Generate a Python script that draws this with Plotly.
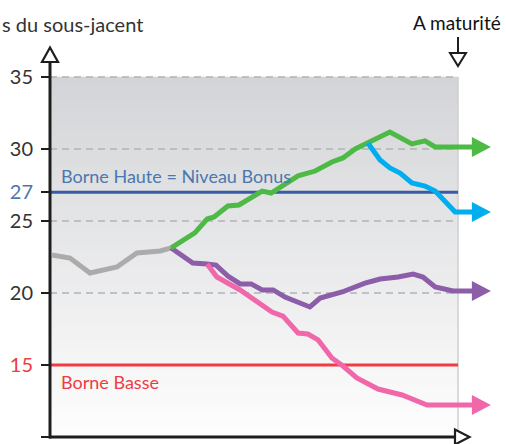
import plotly.graph_objects as go

# ---------------- data ----------------
gray_t = [0.5, 4.9, 9.8, 16.4, 21.3, 27.0, 29.7]
gray_v = [22.64, 22.43, 21.39, 21.81, 22.78, 22.92, 23.13]

green_t = [29.7, 35.5, 38.5, 40.2, 43.6, 46.3, 52.0, 54.2, 60.8, 65.0, 69.1, 71.8, 74.8, 77.9, 83.3, 88.7, 91.9, 94.4, 103.7]
green_v = [23.13, 24.17, 25.14, 25.28, 26.04, 26.11, 27.08, 26.94, 28.13, 28.47, 29.10, 29.38, 30.0, 30.42, 31.18, 30.35, 30.56, 30.14, 30.14]

cyan_t = [77.9, 80.9, 83.3, 85.8, 88.7, 91.9, 94.4, 99.3, 103.7]
cyan_v = [30.42, 29.24, 28.68, 28.33, 27.64, 27.43, 27.08, 25.63, 25.63]

purple_t = [29.7, 35.0, 38.5, 40.7, 43.6, 46.6, 49.3, 52.0, 54.7, 57.6, 63.7, 66.2, 71.6, 77.2, 80.9, 85.3, 89.0, 91.4, 94.4, 98.8, 103.7]
purple_v = [23.13, 22.08, 22.01, 21.94, 21.18, 20.63, 20.63, 20.21, 20.21, 19.72, 19.03, 19.65, 20.07, 20.69, 20.97, 21.11, 21.32, 21.11, 20.42, 20.14, 20.14]

pink_t = [38.5, 40.9, 46.6, 54.4, 57.1, 60.8, 63.2, 65.7, 69.1, 71.8, 75.2, 80.4, 86.3, 92.4, 103.7]
pink_v = [22.01, 21.11, 20.21, 18.68, 18.40, 17.22, 17.15, 16.74, 15.49, 14.93, 14.10, 13.33, 12.92, 12.22, 12.22]

borne_haute = 27
borne_basse = 15
grid_vals = [20, 25, 30, 35]
tick_vals = [10, 15, 20, 25, 27, 30, 35]
tick_labels = ["10", "15", "20", "25", "27", "30", "35"]
maturity_t = 100
y_min, y_max = 10, 35

# ---------------- style ----------------
W, H = 506, 444
ML, MR, MT, MB = 50, 6, 47, 7
X_RANGE = [0, 110.29]
Y_RANGE = [10, 37.083]
FONT = "Lato, Open Sans, sans-serif"
C_GRAY = "#ababab"
C_GREEN = "#4dba45"
C_CYAN = "#00aeef"
C_PURPLE = "#8c5da8"
C_PINK = "#f068aa"
C_BLUE = "#3a5aa8"
C_BLUE_TXT = "#4a78ae"
C_RED = "#ef3b43"
C_AX = "#1e1e1e"

pw = W - ML - MR
ph = H - MT - MB


def px_x(px):
    return (px - ML) / pw


def px_y(py):
    return (H - MB - py) / ph


fig = go.Figure()

# gradient background (bands)
n = 60
top = (0xd3, 0xd4, 0xd7)
bot = (0xfe, 0xfe, 0xfe)
shapes = []
for i in range(n):
    f0 = i / n
    f1 = (i + 1) / n
    fm = (f0 + f1) / 2
    c = tuple(round(bot[k] + (top[k] - bot[k]) * fm) for k in range(3))
    shapes.append(dict(type="rect", xref="x", yref="y", x0=0, x1=maturity_t,
                       y0=y_min + (y_max - y_min) * f0, y1=y_min + (y_max - y_min) * f1 + 0.02,
                       fillcolor="rgb(%d,%d,%d)" % c, line=dict(width=0), layer="below"))
# right edge line of area
shapes.append(dict(type="line", xref="x", yref="y", x0=maturity_t, x1=maturity_t, y0=y_min, y1=y_max,
                   line=dict(color="#cfcfcf", width=1.5), layer="below"))
# dashed grid
for g in grid_vals:
    shapes.append(dict(type="line", xref="x", yref="y", x0=0, x1=maturity_t, y0=g, y1=g,
                       line=dict(color="#b3b3b3", width=1.3, dash="7px,5px"), layer="below"))
# borne lines
shapes.append(dict(type="line", xref="x", yref="y", x0=0, x1=maturity_t, y0=borne_haute, y1=borne_haute,
                   line=dict(color=C_BLUE, width=3), layer="below"))
shapes.append(dict(type="line", xref="x", yref="y", x0=0, x1=maturity_t, y0=borne_basse, y1=borne_basse,
                   line=dict(color=C_RED, width=3), layer="below"))

fig.update_layout(shapes=shapes)

for t, v, col in [(gray_t, gray_v, C_GRAY), (purple_t, purple_v, C_PURPLE), (pink_t, pink_v, C_PINK),
                  (green_t, green_v, C_GREEN), (cyan_t, cyan_v, C_CYAN)]:
    fig.add_trace(go.Scatter(x=t, y=v, mode="lines", line=dict(color=col, width=5),
                             hoverinfo="skip", showlegend=False))

# arrow heads at series ends
ppu_x = pw / (X_RANGE[1] - X_RANGE[0])
ppu_y = ph / (Y_RANGE[1] - Y_RANGE[0])
head_len = 19 / ppu_x
head_half = 10 / ppu_y
for t, v, col in [(green_t, green_v, C_GREEN), (cyan_t, cyan_v, C_CYAN),
                  (purple_t, purple_v, C_PURPLE), (pink_t, pink_v, C_PINK)]:
    x0 = t[-1] - 0.3
    y0 = v[-1]
    fig.add_shape(type="path", xref="x", yref="y",
                  path="M %f,%f L %f,%f L %f,%f Z" % (x0, y0 - head_half, x0, y0 + head_half, x0 + head_len, y0),
                  fillcolor=col, line=dict(width=0))

# axes drawn as shapes (with hollow arrowheads)
fig.add_shape(type="line", xref="paper", yref="paper", x0=0, x1=0, y0=px_y(438.5), y1=px_y(61),
              line=dict(color=C_AX, width=3))
fig.add_shape(type="path", xref="paper", yref="paper",
              path="M %f,%f L %f,%f L %f,%f Z" % (px_x(50), px_y(47.5), px_x(42), px_y(62), px_x(58), px_y(62)),
              fillcolor="white", line=dict(color=C_AX, width=2.2))
fig.add_shape(type="line", xref="paper", yref="paper", x0=px_x(49), x1=px_x(455), y0=0, y1=0,
              line=dict(color=C_AX, width=3))
fig.add_shape(type="path", xref="paper", yref="paper",
              path="M %f,%f L %f,%f L %f,%f Z" % (px_x(455), px_y(429.5), px_x(455), px_y(444.5), px_x(469.5), px_y(437)),
              fillcolor="white", line=dict(color=C_AX, width=2.2))
# maturity arrow
fig.add_shape(type="line", xref="paper", yref="paper", x0=px_x(458), x1=px_x(458), y0=px_y(37), y1=px_y(53),
              line=dict(color=C_AX, width=2))
fig.add_shape(type="path", xref="paper", yref="paper",
              path="M %f,%f L %f,%f L %f,%f Z" % (px_x(450), px_y(53), px_x(466), px_y(53), px_x(458), px_y(66)),
              fillcolor="white", line=dict(color=C_AX, width=2))

ticktext = []
for val, lab in zip(tick_vals, tick_labels):
    if val == borne_haute:
        ticktext.append('<span style="color:%s">%s</span>' % (C_BLUE_TXT, lab))
    elif val == borne_basse:
        ticktext.append('<span style="color:%s">%s</span>' % (C_RED, lab))
    else:
        ticktext.append(lab)

annotations = [
    dict(text="Borne Haute = Niveau Bonus", xref="x", yref="y", x=2.2, y=borne_haute + 0.25,
         xanchor="left", yanchor="bottom", showarrow=False,
         font=dict(family=FONT, size=18, color=C_BLUE_TXT)),
    dict(text="Borne Basse", xref="x", yref="y", x=2.2, y=borne_basse - 0.3,
         xanchor="left", yanchor="top", showarrow=False,
         font=dict(family=FONT, size=18, color=C_RED)),
    dict(text="s du sous-jacent", xref="paper", yref="paper", x=px_x(0), y=px_y(24),
         xanchor="left", yanchor="middle", showarrow=False,
         font=dict(family=FONT, size=20, color="#333333")),
    dict(text="A maturité", xref="paper", yref="paper", x=px_x(503), y=px_y(22),
         xanchor="right", yanchor="middle", showarrow=False,
         font=dict(family=FONT, size=19, color="#111111")),
]

fig.update_layout(
    width=W, height=H, autosize=False,
    margin=dict(l=ML, r=MR, t=MT, b=MB, pad=0, autoexpand=False),
    paper_bgcolor="white", plot_bgcolor="white",
    showlegend=False,
    annotations=annotations,
    xaxis=dict(range=X_RANGE, visible=False, fixedrange=True, automargin=False),
    yaxis=dict(range=Y_RANGE, tickvals=tick_vals, ticktext=ticktext, ticks="outside",
               ticklen=8, tickwidth=2, tickcolor=C_AX, showgrid=False, zeroline=False,
               showline=False, ticklabelstandoff=4, automargin=False,
               tickfont=dict(family=FONT, size=20, color="#333333"), fixedrange=True),
)

fig.write_html("out.html", config={"displayModeBar": False},
               post_script="document.body.style.margin='0';document.body.style.padding='0';document.body.style.overflow='hidden';")
